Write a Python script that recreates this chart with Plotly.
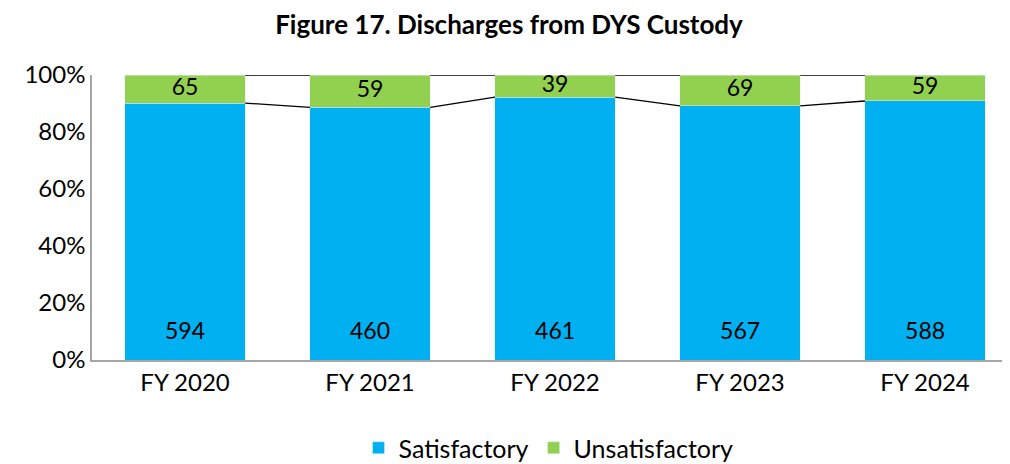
import plotly.graph_objects as go

# data
years = ["FY 2020", "FY 2021", "FY 2022", "FY 2023", "FY 2024"]
satisfactory = [594, 460, 461, 567, 588]
unsatisfactory = [65, 59, 39, 69, 59]

totals = [s + u for s, u in zip(satisfactory, unsatisfactory)]
sat_share = [s / t for s, t in zip(satisfactory, totals)]
unsat_share = [u / t for u, t in zip(unsatisfactory, totals)]
xs = list(range(len(years)))
bar_w = 0.65

fig = go.Figure()
fig.add_trace(go.Bar(x=xs, y=sat_share, width=bar_w, name="Satisfactory",
                     marker_color="#00b0f0", hoverinfo="skip"))
fig.add_trace(go.Bar(x=xs, y=unsat_share, width=bar_w, name="Unsatisfactory",
                     marker_color="#92d050", hoverinfo="skip"))

# series lines between bars (Excel style)
lx, ly = [], []
for i in range(len(xs) - 1):
    lx += [xs[i] + bar_w / 2, xs[i + 1] - bar_w / 2, None]
    ly += [sat_share[i], sat_share[i + 1], None]
    lx += [xs[i] + bar_w / 2, xs[i + 1] - bar_w / 2, None]
    ly += [1, 1, None]
fig.add_trace(go.Scatter(x=lx, y=ly, mode="lines", line=dict(color="black", width=1.3),
                         showlegend=False, hoverinfo="skip"))

# labels
fig.add_trace(go.Scatter(x=xs, y=[0.095] * len(xs), mode="text", text=[str(v) for v in satisfactory],
                         textfont=dict(size=23, color="black"), showlegend=False, hoverinfo="skip"))
fig.add_trace(go.Scatter(x=xs, y=[s + u / 2 for s, u in zip(sat_share, unsat_share)], mode="text",
                         text=[str(v) for v in unsatisfactory],
                         textfont=dict(size=23, color="black"), showlegend=False, hoverinfo="skip"))

# page body has an 8px margin, so the figure is drawn 8px in from the top-left
fig.update_layout(
    barmode="stack",
    width=1002, height=456,
    margin=dict(l=84, r=5, t=67, b=104),
    paper_bgcolor="white", plot_bgcolor="white",
    font=dict(family="Lato, sans-serif", size=23, color="black"),
    title=dict(text="<b>Figure 17. Discharges from DYS Custody</b>", x=0.5, xanchor="center",
               y=0.962, yanchor="middle", font=dict(size=26)),
    legend=dict(orientation="h", x=0.5, xanchor="center", yref="container", y=0.035,
                yanchor="middle", font=dict(size=25), traceorder="normal"),
    showlegend=True,
)
fig.update_xaxes(range=[-0.503, 4.432], tickvals=xs, ticktext=years, showgrid=False,
                 showline=True, linecolor="#a6a6a6", linewidth=1.5, ticks="", zeroline=False,
                 tickfont=dict(size=24), automargin=False)
fig.update_yaxes(range=[0, 1], tickvals=[0, 0.2, 0.4, 0.6, 0.8, 1.0], tickformat=".0%",
                 showgrid=False, showline=True, linecolor="#a6a6a6", linewidth=1.5,
                 ticks="", zeroline=False, tickfont=dict(size=24), automargin=False)

fig.write_html("out.html")
